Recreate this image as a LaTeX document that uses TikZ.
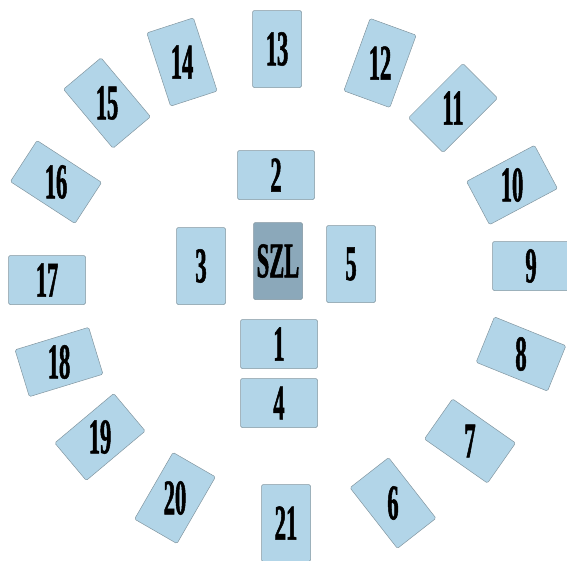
\documentclass[tikz,border=0pt]{standalone}
\usepackage{fontspec}
\newfontfamily\cardfont[FakeStretch=0.45, FakeBold=1]{Liberation Serif}
\definecolor{cardblue}{RGB}{178,213,232}
\definecolor{carddark}{RGB}{139,168,186}
\definecolor{cardedge}{RGB}{130,150,160}
\tikzset{
    card/.style={draw=cardedge, line width=0.5pt, fill=cardblue, rounded corners=1.5pt,
        minimum width=77pt, minimum height=49pt, inner sep=0pt},
    tall/.style={minimum width=49pt, minimum height=77pt},
    num/.style={font=\cardfont\bfseries\fontsize{50}{50}\selectfont, inner sep=0pt}
}
\begin{document}
\begin{tikzpicture}[x=1pt, y=-1pt]
    \useasboundingbox (0,0) rectangle (567,560);

    % middle of the table
    \node[card, tall, fill=carddark] (szl) at (278,261) {};
    \node[card] (c2) at (276,175) {};
    \node[card, tall] (c3) at (201,266) {};
    \node[card, tall] (c5) at (351,264) {};
    \node[card] (c1) at (279,344) {};
    \node[card] (c4) at (279,403) {};

    % outer ring
    \node[card, tall, rotate=38] (c6) at (393,503) {};
    \node[card, rotate=-35] (c7) at (470,441) {};
    \node[card, rotate=-22] (c8) at (521,354) {};
    \node[card] (c9) at (531,266) {};
    \node[card, rotate=28] (c10) at (512,185) {};
    \node[card, rotate=45] (c11) at (453,108) {};
    \node[card, tall, rotate=-20] (c12) at (380,63) {};
    \node[card, tall] (c13) at (277,49) {};
    \node[card, tall, rotate=18] (c14) at (182,62) {};
    \node[card, tall, rotate=40] (c15) at (107,103) {};
    \node[card, rotate=-33] (c16) at (56,182) {};
    \node[card] (c17) at (47,280) {};
    \node[card, rotate=17] (c18) at (59,362) {};
    \node[card, rotate=40] (c19) at (100,437) {};
    \node[card, tall, rotate=-30] (c20) at (175,498) {};
    \node[card, tall] (c21) at (286,523) {};

    % numbers
    \node[num] (tszl) at (szl) {SZL};
    \node[num] (t1) at (c1) {1};
    \node[num] (t2) at (c2) {2};
    \node[num] (t3) at (c3) {3};
    \node[num] (t4) at (c4) {4};
    \node[num] (t5) at (c5) {5};
    \node[num] (t6) at (c6) {6};
    \node[num] (t7) at (c7) {7};
    \node[num] (t8) at (c8) {8};
    \node[num] (t9) at (c9) {9};
    \node[num] (t10) at (c10) {10};
    \node[num] (t11) at (c11) {11};
    \node[num] (t12) at (c12) {12};
    \node[num] (t13) at (c13) {13};
    \node[num] (t14) at (c14) {14};
    \node[num] (t15) at (c15) {15};
    \node[num] (t16) at (c16) {16};
    \node[num] (t17) at (c17) {17};
    \node[num] (t18) at (c18) {18};
    \node[num] (t19) at (c19) {19};
    \node[num] (t20) at (c20) {20};
    \node[num] (t21) at (c21) {21};
\end{tikzpicture}
\end{document}
